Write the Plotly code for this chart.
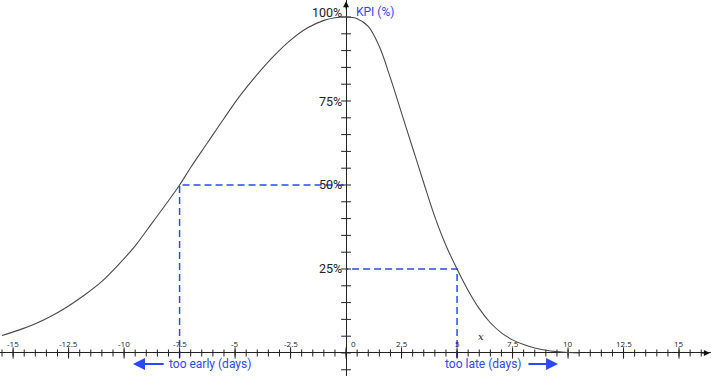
import plotly.graph_objects as go

# ---- data ----
kpi_x = [-15.5, -14.75, -14, -13.25, -12.5, -11.75, -11, -10.25, -9.5, -8.75, -8, -7.5,
         -7, -6.25, -5.5, -4.75, -4, -3.25, -2.5, -1.75, -1, -0.5, 0,
         0.5, 1, 1.5, 2, 2.5, 3, 3.5, 4, 4.5, 5, 5.5, 6, 6.5, 7, 7.5, 8, 8.5, 9, 9.5, 10, 10.5]
kpi_y = [5.2, 6.8, 8.7, 11.1, 14.0, 17.4, 21.3, 26.3, 31.9, 38.6, 45.3, 50,
         55.2, 62.5, 69.8, 76.8, 82.9, 88.4, 93.1, 96.7, 99.0, 99.8, 100,
         99.5, 97.2, 91.2, 81.8, 71.4, 61.0, 50.6, 40.5, 32.0, 25.0, 18.6, 13.2, 9.0,
         6.0, 3.9, 2.5, 1.5, 0.8, 0.4, 0.15, 0]

early_x, early_y = -7.5, 50
late_x, late_y = 5, 25

x_major = [-15, -12.5, -10, -7.5, -5, -2.5, 0, 2.5, 5, 7.5, 10, 12.5, 15]
x_labels = ["-15", "-12.5", "-10", "-7.5", "-5", "-2.5", "0", "2.5", "5", "7.5", "10", "12.5", "15"]
x_minor = [v / 2 for v in range(-31, 33)]
y_ticks = list(range(-5, 101, 5))
y_major = [25, 50, 75, 100]
y_labels = ["25%", "50%", "75%", "100%"]

X_RANGE = [-15.59, 16.44]
Y_RANGE = [-6.85, 105.06]

BLUE = "#2a4af5"
FONT = "Liberation Sans Narrow, Roboto, Open Sans, sans-serif"

fig = go.Figure()

# dashed guide lines
fig.add_trace(go.Scatter(x=[early_x, early_x, 0], y=[-1.5, early_y, early_y], mode="lines",
                         line=dict(color=BLUE, width=1.5, dash="7px,4px"), hoverinfo="skip"))
fig.add_trace(go.Scatter(x=[late_x, late_x, 0], y=[-1.5, late_y, late_y], mode="lines",
                         line=dict(color=BLUE, width=1.5, dash="7px,4px"), hoverinfo="skip"))

# axis ticks
fig.add_trace(go.Scatter(x=x_minor, y=[0] * len(x_minor), mode="markers",
                         marker=dict(symbol="line-ns", size=5, line=dict(color="#222", width=1)),
                         hoverinfo="skip"))
fig.add_trace(go.Scatter(x=x_major, y=[0] * len(x_major), mode="markers",
                         marker=dict(symbol="line-ns", size=8, line=dict(color="#222", width=1)),
                         hoverinfo="skip"))
fig.add_trace(go.Scatter(x=[0] * len(y_ticks), y=y_ticks, mode="markers",
                         marker=dict(symbol="line-ew", size=7, line=dict(color="#222", width=1)),
                         hoverinfo="skip"))

# KPI curve
fig.add_trace(go.Scatter(x=kpi_x, y=kpi_y, mode="lines", line_shape="spline",
                         line=dict(color="#4a4a4a", width=1.1), hoverinfo="skip"))

ann = []
for v, t in zip(x_major, x_labels):
    ann.append(dict(x=v, y=0, text=t, showarrow=False, yshift=9, xshift=7 if v == 0 else 0,
                    font=dict(size=8, color="#222", family="Open Sans, sans-serif")))
for v, t in zip(y_major, y_labels):
    ann.append(dict(x=0, y=v, text=t, showarrow=False, xanchor="right", xshift=-2,
                    yshift=5 if v == 100 else 0,
                    font=dict(size=12.5, color="#222", family=FONT)))
ann.append(dict(x=0, y=100, text="KPI (%)", showarrow=False, xanchor="left", xshift=8, yshift=5,
                font=dict(size=12, color=BLUE, family=FONT)))
ann.append(dict(x=6.1, y=5, text="<i>x</i>", showarrow=False,
                font=dict(size=10, color="#222", family="DejaVu Serif, serif")))
ann.append(dict(x=-6.15, y=-3.3, text="too early (days)", showarrow=False,
                font=dict(size=12, color=BLUE, family=FONT)))
ann.append(dict(x=6.2, y=-3.3, text="too late (days)", showarrow=False,
                font=dict(size=12, color=BLUE, family=FONT)))
# blue arrows
ann.append(dict(x=-9.6, y=-3.3, ax=-8.15, ay=-3.3, axref="x", ayref="y", text="",
                showarrow=True, arrowhead=2, arrowsize=1.2, arrowwidth=2, arrowcolor=BLUE))
ann.append(dict(x=9.55, y=-3.3, ax=8.15, ay=-3.3, axref="x", ayref="y", text="",
                showarrow=True, arrowhead=2, arrowsize=1.2, arrowwidth=2, arrowcolor=BLUE))
# axis arrowheads
ann.append(dict(x=0, y=Y_RANGE[1] - 0.4, ax=0, ay=Y_RANGE[1] - 3, axref="x", ayref="y", text="",
                showarrow=True, arrowhead=2, arrowsize=1, arrowwidth=1.2, arrowcolor="#111"))
ann.append(dict(x=X_RANGE[1] - 0.05, y=0, ax=X_RANGE[1] - 0.5, ay=0, axref="x", ayref="y", text="",
                showarrow=True, arrowhead=2, arrowsize=1, arrowwidth=1.2, arrowcolor="#111"))

fig.update_layout(
    width=711, height=376,
    margin=dict(l=0, r=0, t=0, b=0),
    paper_bgcolor="white", plot_bgcolor="white",
    showlegend=False,
    annotations=ann,
    xaxis=dict(range=X_RANGE, showgrid=False, zeroline=True, zerolinecolor="#222",
               zerolinewidth=1, showticklabels=False, ticks="", fixedrange=True),
    yaxis=dict(range=Y_RANGE, showgrid=False, zeroline=True, zerolinecolor="#222",
               zerolinewidth=1, showticklabels=False, ticks="", fixedrange=True),
)

fig.write_html("out.html", config={"displayModeBar": False},
               post_script="document.body.style.margin='0';")
